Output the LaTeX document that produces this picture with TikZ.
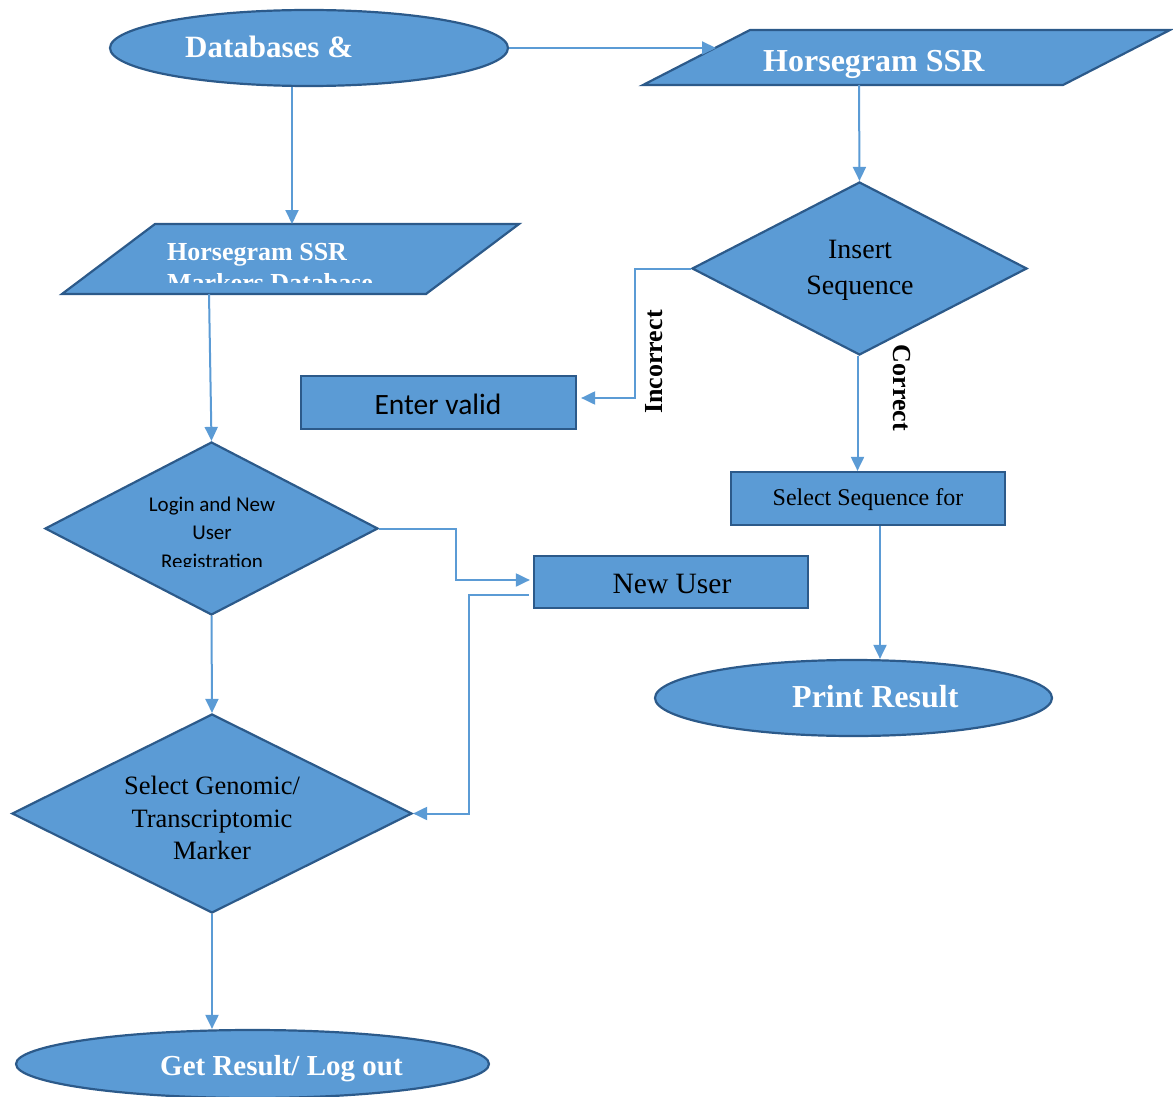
\documentclass[tikz,border=0pt]{standalone}
\usepackage{fontspec}
\setmainfont{Liberation Serif}
\newfontfamily\calibri{Carlito}
\usetikzlibrary{shapes.geometric,arrows.meta}
\definecolor{fillc}{HTML}{5B9BD5}
\definecolor{bordc}{HTML}{2C5A8A}
\definecolor{connc}{HTML}{5B9BD5}
\begin{document}
\begin{tikzpicture}[x=1pt,y=-1pt,
 shp/.style={draw=bordc,fill=fillc,line width=2.2pt,inner sep=0pt},
 ell/.style={shp,ellipse},
 dia/.style={shp,diamond},
 rect/.style={shp,rectangle},
 conn/.style={draw=connc,line width=2pt,-{Triangle[length=14pt,width=13pt]}},
 txtc/.style={inner sep=0pt,anchor=base},
 txtw/.style={inner sep=0pt,anchor=base west},
 wb/.style={text=white,font=\fontsize{#1}{#1}\selectfont\bfseries},
 rg/.style={font=\fontsize{#1}{#1}\selectfont},
 cb/.style={font=\calibri\fontsize{#1}{#1}\selectfont},
 side/.style={inner sep=0pt,font=\fontsize{26}{26}\selectfont\bfseries}]
\useasboundingbox (0,0) rectangle (1173,1097);

% shapes
\node[ell,minimum width=398pt,minimum height=76pt] (db) at (309,48) {};
\node[txtw,wb=31] (dbt) at (185,58) {Databases \&};

\path[shp] (643,85) -- (750,30) -- (1170,30) -- (1063,85) -- cycle;
\coordinate (p1in) at (716,48);
\coordinate (p1bot) at (859,85);
\node[txtw,wb=32] (p1t) at (763,72) {Horsegram SSR};

\path[shp] (62,294) -- (155,224) -- (519,224) -- (426,294) -- cycle;
\coordinate (p2top) at (292,224);
\coordinate (p2bot) at (209,294);
\node[txtw,wb=26] (p2t) at (167,260) {Horsegram SSR};
\begin{scope}
\clip (150,240) rectangle (520,282);
\node[txtw,wb=26] (p2t2) at (167,291) {Markers Database};
\end{scope}

\node[dia,minimum width=335pt,minimum height=173pt] (ins) at (859.5,268.5) {};
\node[txtc,rg=28] (inst1) at (860,258) {Insert};
\node[txtc,rg=28] (inst2) at (860,294) {Sequence};

\node[rect,minimum width=275pt,minimum height=53pt] (ev) at (438.5,402.5) {};
\node[txtc,cb=29.5] (evt) at (438,414) {Enter valid};

\node[side,rotate=90] (inc) at (654,362) {Incorrect};
\node[side,rotate=-90] (cor) at (902,388) {Correct};

\node[rect,minimum width=274pt,minimum height=53pt] (ss) at (868,498.5) {};
\node[txtc,rg=24] (sst) at (868,505) {Select Sequence for};

\node[rect,minimum width=274pt,minimum height=52pt] (nu) at (671,582) {};
\node[txtc,rg=29.5] (nut) at (672,593) {New User};

\node[ell,minimum width=397pt,minimum height=76pt] (pr) at (853.5,698) {};
\node[txtw,wb=32] (prt) at (792,707) {Print Result};

\node[dia,minimum width=333pt,minimum height=173pt] (login) at (211.5,528.5) {};
\node[txtc,cb=21] (lg1) at (212,511) {Login and New};
\node[txtc,cb=21] (lg2) at (212,539) {User};
\begin{scope}
\clip (100,545) rectangle (330,566.5);
\node[txtc,cb=21] (lg3) at (212,568) {Registration};
\end{scope}

\node[dia,minimum width=400pt,minimum height=199pt] (gen) at (212,813.5) {};
\node[txtc,rg=26.5] (gn1) at (212,794) {Select Genomic/};
\node[txtc,rg=26.5] (gn2) at (212,827) {Transcriptomic};
\node[txtc,rg=26.5] (gn3) at (212,859) {Marker};

\node[ell,minimum width=473pt,minimum height=68pt] (gr) at (252.5,1064) {};
\node[txtw,wb=29] (grt) at (160,1075) {Get Result/ Log out};

% connectors
\draw[conn] (db.east) -- (p1in);
\draw[conn] ([xshift=-17pt]db.south) -- (p2top);
\draw[conn] (p1bot) -- (ins.north);
\draw[conn] (p2bot) -- (login.north);
\draw[conn,shorten >=4pt] (ins.west) -- ++(-56,0) |- ([yshift=4.5pt]ev.east);
\draw[conn] ([xshift=-2pt]ins.south) -- ([xshift=-2pt]ins.south |- ss.north);
\draw[conn] ([xshift=12pt]ss.south) -- ([xshift=12pt]ss.south |- pr.north);
\draw[conn,shorten >=3pt] (login.east) -- ++(77,0) |- ([yshift=2pt]nu.west);
\draw[conn] ([xshift=-4pt,yshift=-13pt]nu.west) -- ++(-60,0) |- (gen.east);
\draw[conn] (login.south) -- (gen.north);
\draw[conn] (gen.south) -- (gen.south |- gr.north);
\end{tikzpicture}
\end{document}
